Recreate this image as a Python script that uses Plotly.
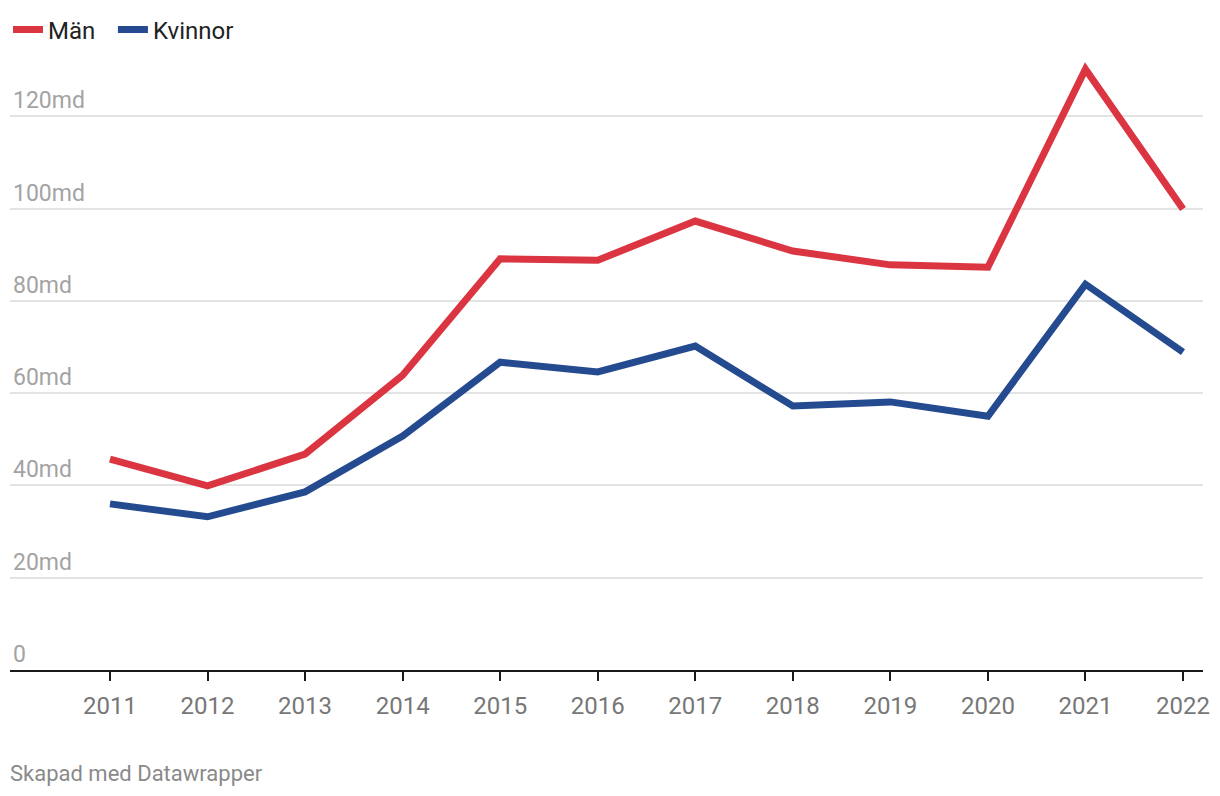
import plotly.graph_objects as go

years = [2011, 2012, 2013, 2014, 2015, 2016, 2017, 2018, 2019, 2020, 2021, 2022]
man = [45.7, 39.9, 46.8, 63.9, 89.1, 88.8, 97.3, 90.8, 87.8, 87.3, 130.2, 99.9]
kvinnor = [36.0, 33.2, 38.6, 50.7, 66.7, 64.6, 70.2, 57.2, 58.1, 55.0, 83.6, 68.9]
y_ticks = [0, 20, 40, 60, 80, 100, 120]
y_labels = ["0", "20md", "40md", "60md", "80md", "100md", "120md"]

RED = "#da3541"
BLUE = "#244a8f"

fig = go.Figure()
fig.add_trace(go.Scatter(x=years, y=man, mode="lines", name="Män",
                         line=dict(color=RED, width=7), legend="legend"))
fig.add_trace(go.Scatter(x=years, y=kvinnor, mode="lines", name="Kvinnor",
                         line=dict(color=BLUE, width=7), legend="legend2"))

legend_common = dict(orientation="h", xref="container", yref="container",
                     y=0.9724, xanchor="left", yanchor="middle",
                     font=dict(size=24, color="#222222"), itemwidth=30,
                     bgcolor="rgba(0,0,0,0)")

fig.update_layout(
    width=1220, height=796,
    margin=dict(l=2, r=25, t=52, b=134),
    paper_bgcolor="white", plot_bgcolor="white",
    font=dict(family="Roboto", size=20, color="#333333"),
    showlegend=True,
    legend=dict(x=-0.004, **legend_common),
    legend2=dict(x=0.086, **legend_common),
    xaxis=dict(range=[2009.975, 2022.205], tickvals=years,
               ticktext=[str(y) for y in years],
               showgrid=False, zeroline=False,
               showline=True, linecolor="#1a1a1a", linewidth=2,
               ticks="outside", ticklen=9, tickwidth=2, tickcolor="#1a1a1a",
               ticklabelstandoff=4,
               tickfont=dict(size=24, color="#777777"), fixedrange=True),
    yaxis=dict(range=[0, 132.2], tickvals=y_ticks, ticktext=y_labels,
               ticklabelposition="inside top",
               showgrid=True, gridcolor="#e3e3e3", gridwidth=1.5,
               zeroline=False, showline=False, ticks="",
               tickfont=dict(size=23, color="#a3a3a3"), fixedrange=True),
    annotations=[dict(text="Skapad med Datawrapper", xref="paper", yref="paper",
                      x=0.0, y=-0.169, xanchor="left", yanchor="middle", xshift=-2,
                      showarrow=False, font=dict(size=22, color="#8a8a8a"))],
)

fig.write_html("out.html")
